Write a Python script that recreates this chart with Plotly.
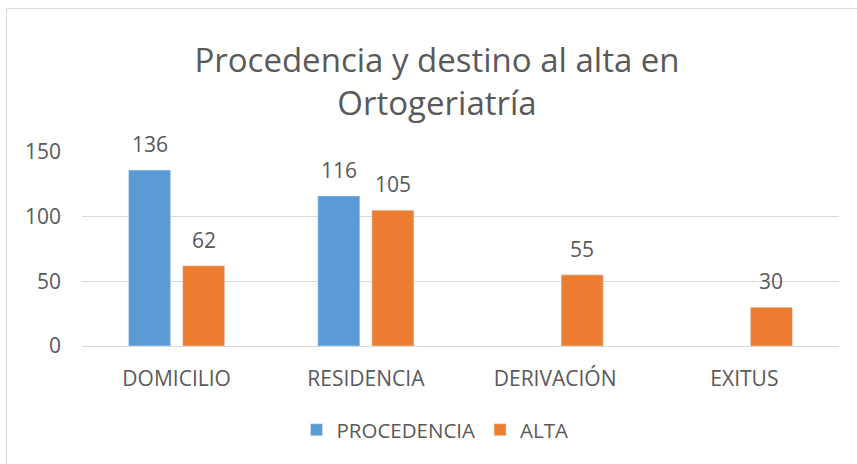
import plotly.graph_objects as go

categories = ["DOMICILIO", "RESIDENCIA", "DERIVACIÓN", "EXITUS"]
procedencia = [136, 116, None, None]
alta = [62, 105, 55, 30]
series_names = ["PROCEDENCIA", "ALTA"]
y_ticks = [0, 50, 100, 150]
title_text = "Procedencia y destino al alta en<br>Ortogeriatría"

BLUE = "#5B9BD5"
ORANGE = "#ED7D31"
TXT = "#595959"
FONT = "Open Sans"

fig = go.Figure()
fig.add_trace(go.Bar(x=categories, y=procedencia, name=series_names[0], marker_color=BLUE))
fig.add_trace(go.Bar(x=categories, y=alta, name=series_names[1], marker_color=ORANGE))

annotations = []
for vals, shift in ((procedencia, -27), (alta, 27)):
    for c, v in zip(categories, vals):
        if v is None:
            continue
        annotations.append(dict(x=c, y=v, xref="x", yref="y", text=str(v), showarrow=False,
                                xshift=shift, yshift=10, yanchor="bottom",
                                font=dict(family=FONT, size=21, color=TXT)))

W, H = 857, 464
L, R, T, B = 82, 18, 152, 118
pw, ph = W - L - R, H - T - B

fig.update_layout(
    width=W, height=H,
    margin=dict(l=L, r=R, t=T, b=B),
    paper_bgcolor="white", plot_bgcolor="white",
    barmode="group", bargap=0.4286, bargroupgap=0.222,
    font=dict(family=FONT, size=21, color=TXT),
    title=dict(text=title_text, x=437 / W, xanchor="center", y=1 - 72 / H, yanchor="middle",
               xref="container", yref="container",
               font=dict(family=FONT, size=33, color=TXT)),
    legend=dict(orientation="h", x=(435 - L) / pw, xanchor="center", y=(346 - 430) / ph, yanchor="middle",
                font=dict(family=FONT, size=20.5, color=TXT), itemwidth=30, traceorder="normal"),
    annotations=annotations,
    showlegend=True,
    shapes=[
        dict(type="line", xref="paper", yref="paper", x0=(6.5 - L) / pw, x1=(W + 5 - L) / pw,
             y0=1 + (T - 8.5) / ph, y1=1 + (T - 8.5) / ph, line=dict(color="#D9D9D9", width=1)),
        dict(type="line", xref="paper", yref="paper", x0=(6.5 - L) / pw, x1=(6.5 - L) / pw,
             y0=1 + (T - 8.5) / ph, y1=-(B + 5) / ph, line=dict(color="#D9D9D9", width=1)),
    ],
)
fig.update_xaxes(showgrid=False, showline=True, linecolor="#D9D9D9", linewidth=1, ticks="",
                 tickfont=dict(family=FONT, size=21, color=TXT), ticklabelstandoff=14)
fig.update_yaxes(range=[0, 150], tickvals=y_ticks, showgrid=True, gridcolor="#D9D9D9", gridwidth=1,
                 zeroline=False, showline=False, ticks="",
                 tickfont=dict(family=FONT, size=21, color=TXT), ticklabelstandoff=20)

fig.write_html("out.html", config={"displayModeBar": False},
               post_script="document.body.style.margin='0';document.body.style.overflow='hidden';")
